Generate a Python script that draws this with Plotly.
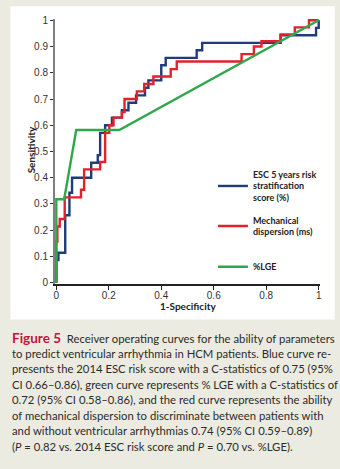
import plotly.graph_objects as go

# ---- data ----
esc_fpr = [0, 0, 0.008, 0.034, 0.050, 0.060, 0.133, 0.158, 0.167, 0.186, 0.212, 0.250, 0.275,
           0.304, 0.338, 0.351, 0.400, 0.417, 0.535, 0.556, 0.855, 0.990, 1.0]
esc_tpr = [0, 0.086, 0.114, 0.257, 0.343, 0.400, 0.457, 0.486, 0.571, 0.600, 0.629, 0.657, 0.686,
           0.714, 0.743, 0.771, 0.829, 0.857, 0.886, 0.914, 0.943, 0.971, 1.0]

md_fpr = [0, 0, 0.004, 0.013, 0.032, 0.094, 0.106, 0.167, 0.186, 0.202, 0.218, 0.250, 0.260,
          0.307, 0.335, 0.370, 0.436, 0.459, 0.706, 0.753, 0.782, 0.855, 0.909, 0.963, 1.0]
md_tpr = [0, 0.157, 0.214, 0.243, 0.325, 0.354, 0.432, 0.460, 0.571, 0.600, 0.629, 0.650, 0.700,
          0.729, 0.757, 0.786, 0.814, 0.843, 0.871, 0.900, 0.920, 0.946, 0.973, 1.0, 1.0]

lge_fpr = [0, 0, 0.030, 0.076, 0.240, 1.0]
lge_tpr = [0, 0.318, 0.318, 0.582, 0.582, 1.0]

names = ["ESC 5 years risk<br>stratification<br>score (%)",
         "Mechanical<br>dispersion (ms)",
         "%LGE"]
x_title = "1-Specificity"
y_title = "Sensitivity"
x_ticks = [0, 0.2, 0.4, 0.6, 0.8, 1]
x_ticklabels = ["0", "0.2", "0.4", "0.6", "0.8", "1"]
y_ticks = [0, 0.1, 0.2, 0.3, 0.4, 0.5, 0.6, 0.7, 0.8, 0.9, 1]
y_ticklabels = ["0", "0.1", "0.2", "0.3", "0.4", "0.5", "0.6", "0.7", "0.8", "0.9", "1"]

caption_lines = [
    "<span style='color:#c4123f;font-size:13.5px'><b>Figure 5</b></span>  Receiver operating curves for the ability of parameters",
    "to predict ventricular arrhythmia in HCM patients. Blue curve re-",
    "presents the 2014 ESC risk score with a C-statistics of 0.75 (95%",
    "CI 0.66\u20130.86), green curve represents % LGE with a C-statistics of",
    "0.72 (95% CI 0.58\u20130.86), and the red curve represents the ability",
    "of mechanical dispersion to discriminate between patients with",
    "and without ventricular arrhythmias 0.74 (95% CI 0.59\u20130.89)",
    "(<i>P</i> = 0.82 vs. 2014 ESC risk score and <i>P</i> = 0.70 vs. %LGE).",
]

BLUE = "#1f3d7a"
RED = "#e5202a"
GREEN = "#2ea84a"

# ---- geometry (pixels) ----
W, H = 340, 469
PAD = 0.005
X0, X1 = 56.0, 319.0      # px of data x=0 and x=1
Y1, Y0 = 20.0, 283.0      # px of data y=1 and y=0
sx = X1 - X0
sy = Y0 - Y1
ml = X0 - PAD * sx
pw = (1 + 2 * PAD) * sx
mr = W - ml - pw
mt = Y1 - PAD * sy
ph = (1 + 2 * PAD) * sy
mb = H - mt - ph


def px_x(p):
    return (p - ml) / pw


def px_y(p):
    return (mt + ph - p) / ph


fig = go.Figure()
fig.add_trace(go.Scatter(x=esc_fpr, y=esc_tpr, mode="lines", name=names[0], legend="legend",
                         line=dict(color=BLUE, width=2.4, shape="hv")))
fig.add_trace(go.Scatter(x=md_fpr, y=md_tpr, mode="lines", name=names[1], legend="legend2",
                         line=dict(color=RED, width=2.4, shape="hv")))
fig.add_trace(go.Scatter(x=lge_fpr, y=lge_tpr, mode="lines", name=names[2], legend="legend3",
                         line=dict(color=GREEN, width=2.4)))

leg_font = dict(family="Lato", size=9, color="#222222", weight="bold")
leg_common = dict(xanchor="left", yanchor="middle", bgcolor="rgba(0,0,0,0)", font=leg_font,
                  itemwidth=30, borderwidth=0)

title_font = dict(family="Lato", size=10, color="#222222", weight="bold")
annotations = [
    dict(text=y_title, xref="paper", yref="paper", x=px_x(31), y=px_y(150), textangle=-90,
         xanchor="center", yanchor="middle", showarrow=False, font=title_font),
    dict(text=x_title, xref="paper", yref="paper", x=px_x(187.5), y=px_y(306),
         xanchor="center", yanchor="middle", showarrow=False, font=title_font),
]
for i, line in enumerate(caption_lines):
    annotations.append(dict(
        text=line, xref="paper", yref="paper", x=px_x(10), y=px_y(338 + i * 15.6),
        xanchor="left", yanchor="middle", showarrow=False, align="left",
        font=dict(family="Lato", size=11.3, color="#2b2b2b"),
    ))

fig.update_layout(
    width=W, height=H,
    margin=dict(l=ml, r=mr, t=mt, b=mb, pad=0),
    paper_bgcolor="#ecebe1",
    plot_bgcolor="white",
    showlegend=True,
    legend=dict(x=px_x(213), y=px_y(186.5), **leg_common),
    legend2=dict(x=px_x(213), y=px_y(226.5), **leg_common),
    legend3=dict(x=px_x(213), y=px_y(267), **leg_common),
    shapes=[dict(type="rect", xref="paper", yref="paper", layer="below",
                 x0=px_x(10), x1=px_x(335), y0=px_y(320), y1=px_y(6),
                 fillcolor="white", line=dict(width=0))],
    annotations=annotations,
    xaxis=dict(range=[-PAD, 1 + PAD], tickvals=x_ticks, ticktext=x_ticklabels,
               showgrid=False, zeroline=False, showline=True, linecolor="#222222", linewidth=1.5,
               ticks="outside", ticklen=4, tickwidth=1, tickcolor="#222222", layer="below traces",
               ticklabelstandoff=-3,
               tickfont=dict(family="Liberation Sans", size=10, color="#333333")),
    yaxis=dict(range=[-PAD, 1 + PAD], tickvals=y_ticks, ticktext=y_ticklabels,
               showgrid=False, zeroline=False, showline=True, linecolor="#808080", linewidth=2,
               ticks="outside", ticklen=3, tickwidth=1, tickcolor="#333333", layer="below traces",
               tickfont=dict(family="Liberation Sans", size=10, color="#333333")),
)

fig.write_html("out.html")
